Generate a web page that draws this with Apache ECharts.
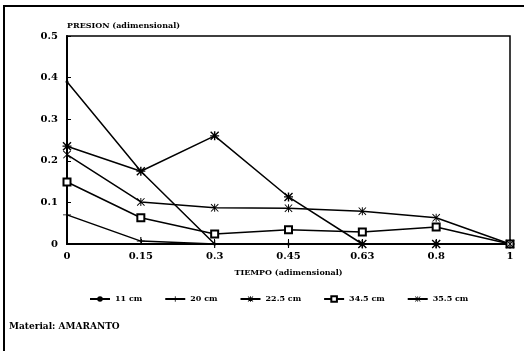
<!DOCTYPE html>
<html>
<head>
<meta charset="utf-8">
<script src="https://cdn.jsdelivr.net/npm/echarts@6/dist/echarts.min.js"></script>
<style>
  html, body { margin: 0; padding: 0; background: #fff; }
  #chart { width: 524px; height: 351px; }
</style>
</head>
<body>
<div id="chart"></div>
<script>
// Dimensionless time (x categories)
const tiempo = ['0', '0.15', '0.3', '0.45', '0.63', '0.8', '1'];

// Dimensionless pressure for each bed height
const serie11cm   = [0.39, 0.175, 0, 0, 0, 0, 0];
const serie20cm   = [0.07, 0.007, 0, 0, 0, 0, 0];
const serie22_5cm = [0.235, 0.175, 0.26, 0.113, 0, 0, 0];
const serie34_5cm = [0.149, 0.063, 0.024, 0.034, 0.029, 0.041, 0];
const serie35_5cm = [0.215, 0.101, 0.087, 0.086, 0.079, 0.063, 0];

const nombres = ['11 cm', '20 cm', '22.5 cm', '34.5 cm', '35.5 cm'];

const FONT = 'DejaVu Serif';

// Marker shapes (filled outlines, drawn without stroke)
const symPlus = 'path://M4.3,0h1.4v10h-1.4z M0,4.5h10v1h-10z';
const symStar = 'path://M4.2,0h1.6v10h-1.6z M0,1.1L1.1,0L10,8.9L8.9,10z M8.9,0L10,1.1L1.1,10L0,8.9z M0,4.3h10v1.4h-10z';
const symBow  = 'path://M4.4,0h1.2v10h-1.2z M0,0.8L0.8,0L10,9.2L9.2,10z M9.2,0L10,0.8L0.8,10L0,9.2z';

function linea(name, data, symbol, size, border) {
  return {
    name: name,
    type: 'line',
    data: data,
    symbol: symbol,
    symbolSize: size,
    showAllSymbol: true,
    lineStyle: { color: '#000', width: 1.5 },
    itemStyle: { color: '#000', borderColor: '#000', borderWidth: border },
    emphasis: { disabled: true },
    animation: false
  };
}

const chart = echarts.init(document.getElementById('chart'));
chart.setOption({
  backgroundColor: '#fff',
  animation: false,
  grid: {
    left: 67, right: 14, top: 36, bottom: 107,
    show: true, borderColor: '#000', borderWidth: 1.5, backgroundColor: 'transparent'
  },
  xAxis: {
    type: 'category',
    data: tiempo,
    boundaryGap: false,
    name: 'TIEMPO (adimensional)',
    nameLocation: 'middle',
    nameGap: 25,
    nameTextStyle: { fontFamily: FONT, fontWeight: 'bold', fontSize: 8, color: '#000' },
    axisLine: { lineStyle: { color: '#000', width: 2 } },
    axisTick: { inside: true, length: 5, lineStyle: { color: '#000', width: 1 } },
    axisLabel: { fontFamily: FONT, fontWeight: 'bold', fontSize: 10, color: '#000', margin: 7 },
    splitLine: { show: false }
  },
  yAxis: {
    type: 'value',
    min: 0, max: 0.5, interval: 0.1,
    axisLine: { show: true, lineStyle: { color: '#000', width: 2 } },
    axisTick: { show: true, inside: true, length: 4, lineStyle: { color: '#000', width: 1 } },
    axisLabel: {
      fontFamily: FONT, fontWeight: 'bold', fontSize: 10, color: '#000', margin: 9,
      formatter: v => (v === 0 ? '0' : v.toFixed(1))
    },
    splitLine: { show: false }
  },
  legend: {
    data: nombres,
    top: 290, left: 84,
    itemGap: 22, itemWidth: 20, itemHeight: 7,
    textStyle: { fontFamily: FONT, fontWeight: 'bold', fontSize: 8, color: '#000' },
    selectedMode: false
  },
  series: [
    linea(nombres[0], serie11cm, 'circle', 3, 0),
    linea(nombres[1], serie20cm, symPlus, 8, 0),
    linea(nombres[2], serie22_5cm, symStar, 9, 0),
    linea(nombres[3], serie34_5cm, 'emptyRect', 7, 1),
    linea(nombres[4], serie35_5cm, symBow, 8, 0)
  ],
  graphic: [
    {
      type: 'rect', silent: true,
      shape: { x: 4, y: 6, width: 540, height: 360 },
      style: { fill: 'none', stroke: '#000', lineWidth: 2 }
    },
    {
      type: 'text', left: 67, top: 22, silent: true,
      style: { text: 'PRESION (adimensional)', font: 'bold 8px "DejaVu Serif"', fill: '#000' }
    },
    {
      type: 'text', left: 9, top: 322, silent: true,
      style: { text: 'Material: AMARANTO', font: 'bold 9px "DejaVu Serif"', fill: '#000' }
    }
  ]
});
</script>
</body>
</html>
